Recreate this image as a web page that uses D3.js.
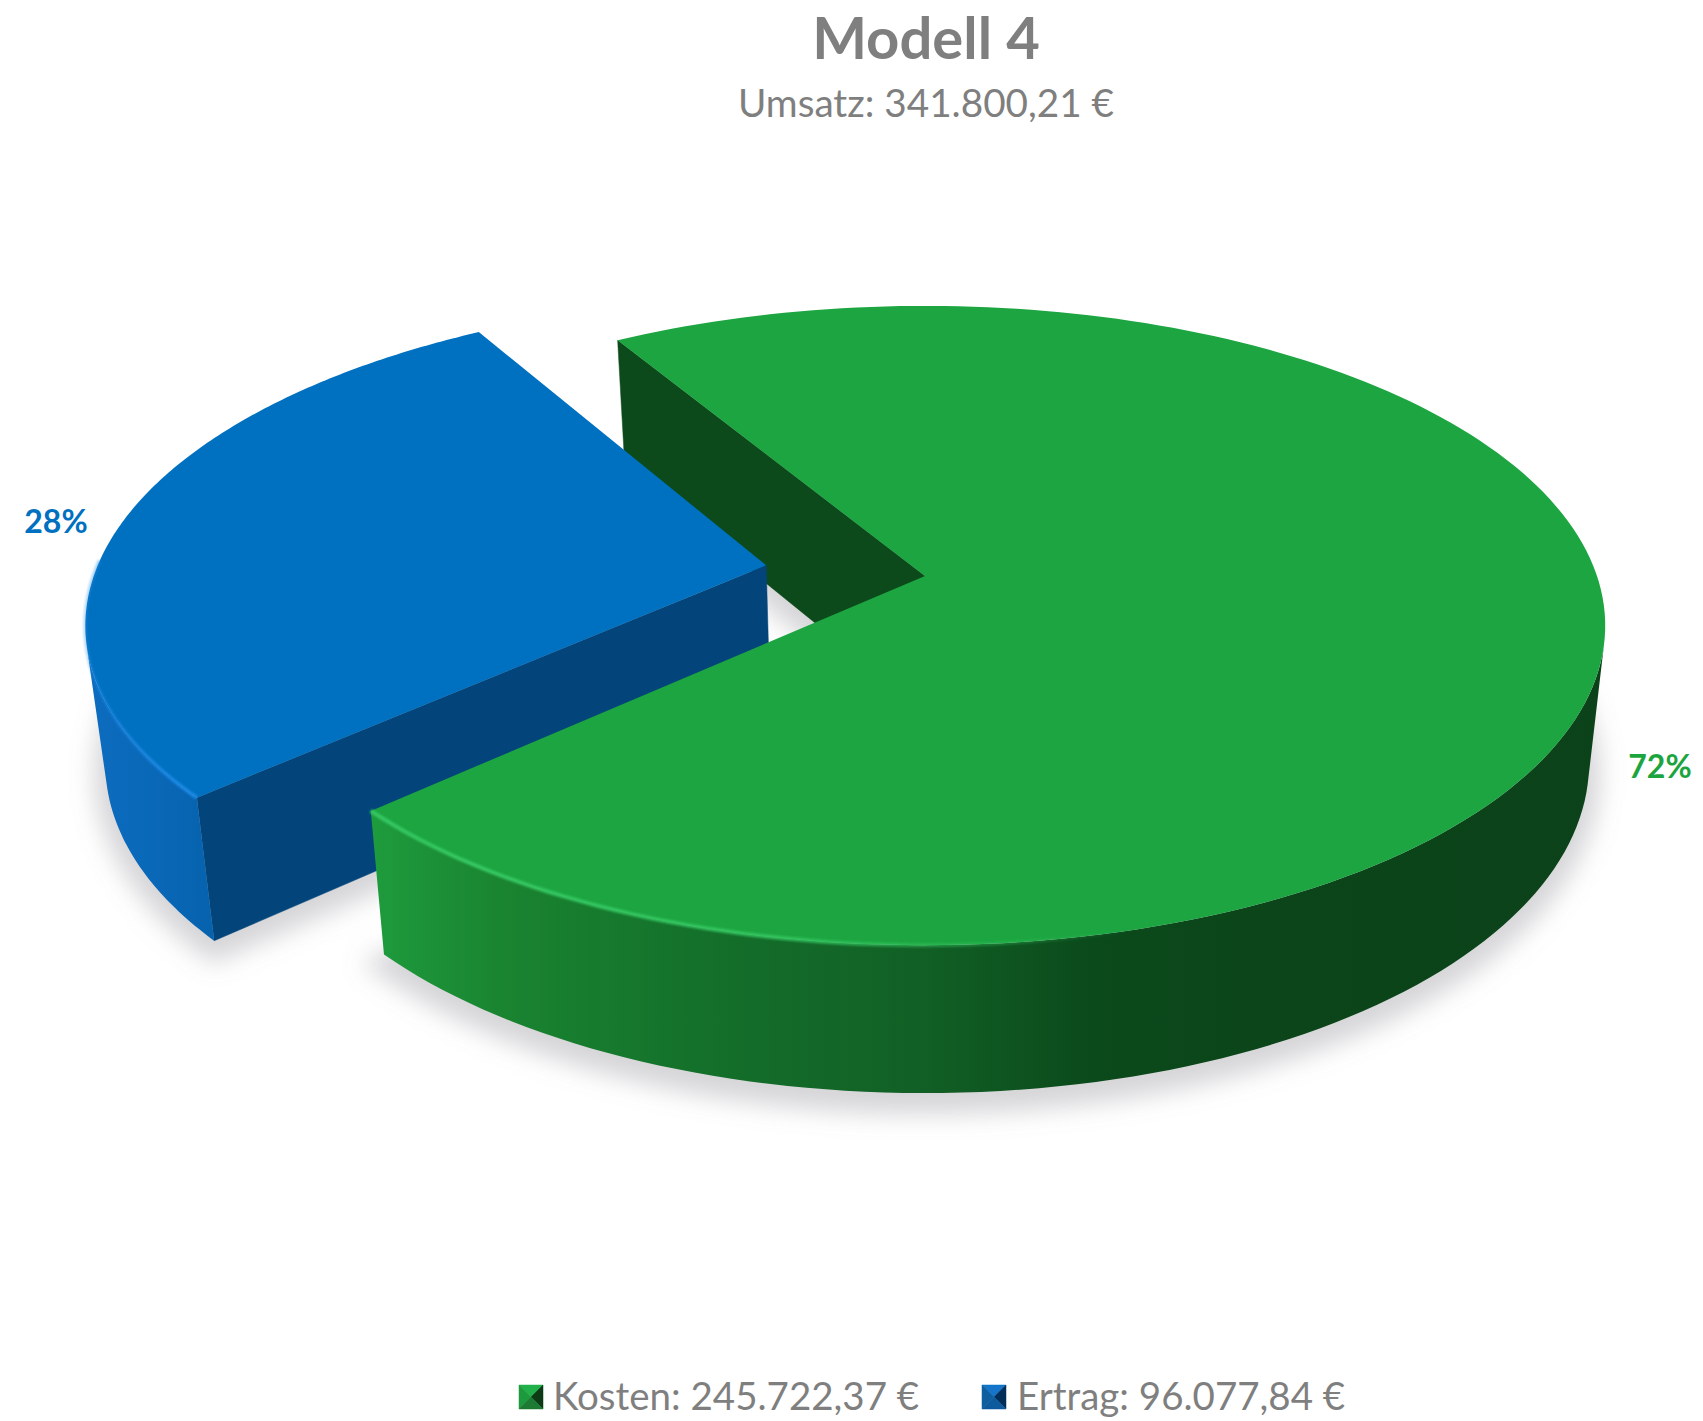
<!DOCTYPE html>
<html><head><meta charset="utf-8">
<script src="https://cdn.jsdelivr.net/npm/d3@7/dist/d3.min.js"></script>
<style>html,body{margin:0;padding:0;background:#fff}svg{display:block}text{font-family:Lato,"Noto Sans",sans-serif}</style>
</head><body><div id="c"></div>
<script>
const categories = ["Kosten", "Ertrag"];
const values = [245722.37, 96077.84];
const valueLabels = ["245.722,37 €", "96.077,84 €"];
const percentLabels = ["72%", "28%"];
const explode = [0, 0.24];
const title = "Modell 4";
const subtitle = "Umsatz: 341.800,21 €";

const W = 1703, H = 1421, deg = Math.PI / 180;
const topColor = ["#1ca541", "#0070c0"];
const wallColor = ["#0c4a1b", "#03457a"];
const rimColor = ["#35c862", "#1c8ae6"];
const gray = "#7f7f7f";

const svg = d3.select("#c").append("svg").attr("width", W).attr("height", H).attr("viewBox", `0 0 ${W} ${H}`);
const defs = svg.append("defs");
function blur(id, sd) {
  defs.append("filter").attr("id", id).attr("x", "-20%").attr("y", "-20%").attr("width", "140%").attr("height", "140%")
    .append("feGaussianBlur").attr("stdDeviation", sd);
}
blur("shadow", 12); blur("soft", 1.3); blur("marker", 0.7);

function xGradient(id, x1, x2, stops) {
  const g = defs.append("linearGradient").attr("id", id).attr("gradientUnits", "userSpaceOnUse")
    .attr("x1", x1).attr("x2", x2).attr("y1", 0).attr("y2", 0);
  stops.forEach(s => g.append("stop").attr("offset", s[0]).attr("stop-color", s[1]).attr("stop-opacity", s[2] === undefined ? 1 : s[2]));
}
xGradient("side0", 370, 1610, [[0, "#1e9c3d"], [.1, "#1a8531"], [.25, "#14722b"], [.45, "#115f25"], [.58, "#0b4a1b"], [.72, "#0b4519"], [1, "#0c421a"]]);
xGradient("side1", 85, 215, [[0, "#0c6cbf"], [.5, "#0a68b8"], [1, "#0662ad"]]);
xGradient("rim0", 370, 1130, [[0, rimColor[0], 1], [.55, rimColor[0], .85], [1, rimColor[0], 0]]);
xGradient("rim1", 84, 215, [[0, rimColor[1], .3], [.5, rimColor[1], .75], [1, rimColor[1], 1]]);

// Perspective projection of the pie's plane: u to the right, v toward the viewer.
const persp = 0.155;
const planes = {
  top: {x0: 925, y0: 576, a: 672, b: 312},
  bottom: {x0: 925, y0: 712, a: 656, b: 322}
};
function project(plane, u, v) {
  const w = 1 - persp * v;
  return [plane.x0 + plane.a * u / w, plane.y0 + plane.b * v / w];
}
const pie = d3.pie().sort(null).startAngle(-31.2 * deg).endAngle(328.8 * deg);
const arcs = pie(values);
const line = d3.line();

function shiftOf(i, d) {
  const mid = (d.startAngle + d.endAngle) / 2;
  return [explode[i] * Math.sin(mid), -explode[i] * Math.cos(mid)];
}
function rimPoints(plane, d, s) {
  return d3.range(0, 181).map(k => {
    const t = d.startAngle + (d.endAngle - d.startAngle) * k / 180;
    return project(plane, s[0] + Math.sin(t), s[1] - Math.cos(t));
  });
}
const slices = arcs.map((d, i) => {
  const s = shiftOf(i, d);
  const topRim = rimPoints(planes.top, d, s);
  const botRim = rimPoints(planes.bottom, d, s);
  // only the stretch of rim whose outer wall faces the viewer is drawn
  const front = d3.range(0, 180).filter(k => {
    const tx = topRim[k + 1][0] - topRim[k][0], ty = topRim[k + 1][1] - topRim[k][1];
    const dx = botRim[k][0] - topRim[k][0], dy = botRim[k][1] - topRim[k][1];
    return tx * dy - ty * dx < 0;
  });
  return {i, d, topRim, botRim, front,
    topC: project(planes.top, s[0], s[1]),
    botC: project(planes.bottom, s[0], s[1])};
});

// soft ground shadow
svg.append("g").attr("filter", "url(#shadow)").selectAll("path").data(slices).join("path")
  .attr("transform", "translate(0,10)")
  .attr("d", p => line([p.botC, ...p.botRim]) + "Z")
  .attr("stroke", "#8a8a92").attr("stroke-width", 22).attr("fill", "#8a8a92").attr("opacity", .36);

const green = slices[0], blue = slices[1];
function drawWall(p, k) {
  svg.append("path").attr("d", line([p.topC, p.topRim[k], p.botRim[k], p.botC]) + "Z")
    .attr("fill", wallColor[p.i]).attr("stroke", wallColor[p.i]).attr("stroke-width", .5);
}
function drawBody(p) {
  const a = d3.min(p.front), b = d3.max(p.front) + 1;
  const t = p.topRim.slice(a, b + 1), u = p.botRim.slice(a, b + 1).reverse();
  svg.append("path").attr("d", line([...t, ...u]) + "Z").attr("fill", `url(#side${p.i})`);
}
function drawTop(p) {
  svg.append("path").attr("d", line([p.topC, ...p.topRim]) + "Z").attr("fill", topColor[p.i]);
}
// green's cut face at its start angle, seen through the gap
drawWall(green, 0);
// blue slice
drawWall(blue, 0);
drawBody(blue);
drawTop(blue);
svg.append("path").attr("d", line(blue.topRim.slice(0, 78))).attr("fill", "none")
  .attr("stroke", "url(#rim1)").attr("stroke-width", 4).attr("filter", "url(#soft)");
// green slice
drawBody(green);
drawTop(green);
svg.append("path").attr("d", line(green.topRim.slice(90))).attr("fill", "none")
  .attr("stroke", "url(#rim0)").attr("stroke-width", 4).attr("filter", "url(#soft)");

// titles
svg.append("text").attr("x", 926).attr("y", 59).attr("text-anchor", "middle").attr("font-size", 58).attr("font-weight", 700).attr("fill", gray).text(title);
svg.append("text").attr("x", 926).attr("y", 117).attr("text-anchor", "middle").attr("font-size", 38.7).attr("fill", gray).text(subtitle);

// data labels
svg.append("text").attr("x", 1660).attr("y", 778).attr("text-anchor", "middle").attr("font-size", 32).attr("font-weight", 700).attr("fill", "#1ca53f").text(percentLabels[0]);
svg.append("text").attr("x", 56).attr("y", 533).attr("text-anchor", "middle").attr("font-size", 32).attr("font-weight", 700).attr("fill", topColor[1]).text(percentLabels[1]);

// legend
const legendX = [519, 982], legendText = [553, 1017], mk = 24, mkY = 1385;
const markerFaces = [
  ["#22b04c", "#1c9a3d", "#0a3a15", "#1d7a33"],
  ["#1274c8", "#0f5f9f", "#062f58", "#0c5a9c"]
];
categories.forEach((c, i) => {
  const x = legendX[i], y = mkY, m = [x + mk / 2, y + mk / 2];
  const tl = [x, y], tr = [x + mk, y], br = [x + mk, y + mk], bl = [x, y + mk];
  const g = svg.append("g").attr("filter", "url(#marker)");
  [[tl, tr], [tl, bl], [tr, br], [bl, br]].forEach((e, k) => {
    g.append("path").attr("d", line([e[0], e[1], m]) + "Z").attr("fill", markerFaces[i][k]).attr("stroke", markerFaces[i][k]).attr("stroke-width", .5);
  });
  svg.append("text").attr("x", legendText[i]).attr("y", 1410).attr("font-size", 38.5).attr("fill", gray).text(`${c}: ${valueLabels[i]}`);
});
</script></body></html>
